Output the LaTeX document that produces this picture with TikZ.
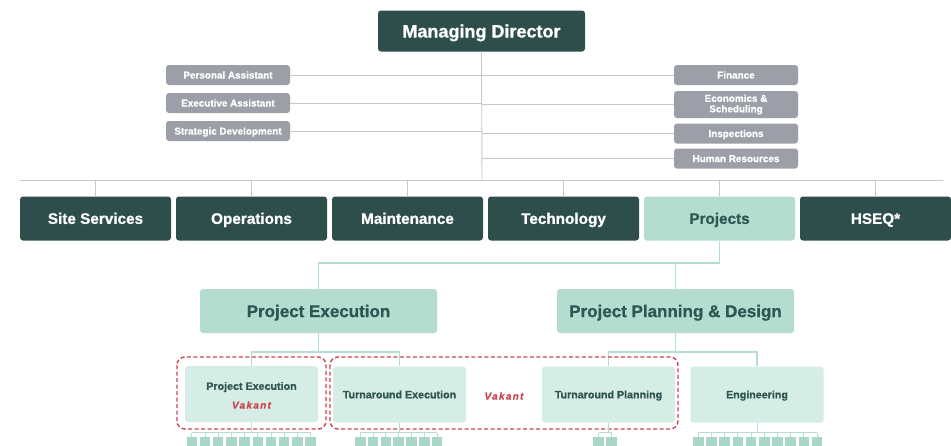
\documentclass[tikz,border=0pt]{standalone}
\usepackage{fontspec}
\setmainfont{Liberation Sans}[BoldFeatures={FakeBold=0.9}]
\newfontfamily\vakfont{Liberation Sans}[LetterSpace=13,BoldItalicFeatures={FakeBold=0.6}]
\definecolor{dk}{HTML}{2D4E4B}
\definecolor{gr}{HTML}{9C9FA8}
\definecolor{lt}{HTML}{B4DDD0}
\definecolor{sub}{HTML}{D5EDE4}
\definecolor{sq}{HTML}{A9D6C7}
\definecolor{tline}{HTML}{B6DDD1}
\definecolor{gline}{HTML}{C6C8CB}
\definecolor{txt}{HTML}{2F5652}
\definecolor{vred}{HTML}{CC4452}
\begin{document}
\begin{tikzpicture}[x=1pt,y=-1pt,
  md/.style={fill=dk,rounded corners=3pt,text=white,minimum width=207pt,minimum height=41pt,inner sep=0pt,text height=13pt,text depth=0pt,font=\bfseries\fontsize{18}{20}\selectfont},
  dept/.style={fill=dk,rounded corners=3pt,text=white,minimum width=151pt,minimum height=44pt,inner sep=0pt,text height=10.8pt,text depth=0pt,font=\bfseries\fontsize{15.3}{17}\selectfont},
  deptlt/.style={dept,fill=lt,text=txt},
  grbox/.style={fill=gr,rounded corners=3pt,text=white,minimum width=124pt,minimum height=20pt,inner sep=0pt,align=center,font=\bfseries\fontsize{9.9}{10.5}\selectfont},
  grone/.style={grbox,text height=7.1pt,text depth=0pt},
  lvtwo/.style={fill=lt,rounded corners=3pt,text=txt,minimum width=237pt,minimum height=44pt,inner sep=0pt,text height=12.2pt,text depth=0pt,font=\bfseries\fontsize{17}{19}\selectfont},
  lvthree/.style={fill=sub,rounded corners=3pt,text=txt,minimum width=133pt,minimum height=56pt,inner sep=0pt,align=center,font=\bfseries\fontsize{10.7}{12}\selectfont},
  lvone/.style={lvthree,text height=7.7pt,text depth=0pt},
  sqbox/.style={fill=sq,minimum width=10.5pt,minimum height=11pt,inner sep=0pt,anchor=north},
  gconn/.style={draw=gline,line width=0.9pt},
  tconn/.style={draw=tline,line width=1.1pt},
  vakbox/.style={draw=vred,line width=1.4pt,dash pattern=on 4pt off 2.5pt,rounded corners=8pt},
  vak/.style={text=vred,font=\vakfont\bfseries\itshape\fontsize{10}{12}\selectfont,inner sep=0pt,text height=7.2pt,text depth=0pt}
]
\useasboundingbox (0,0) rectangle (951,445);
\fill[white] (0,0) rectangle (951,445);

% top
\node[md] (md) at (481.5,31) {Managing Director};
\coordinate (hub) at (482,180);
\coordinate (hl) at (20,180);
\coordinate (hr) at (943,180);

\node[grone] (pa) at (228,75) {Personal Assistant};
\node[grone] (ea) at (228,103) {Executive Assistant};
\node[grone] (sd) at (228,131) {Strategic Development};
\node[grone] (fin) at (736,75) {Finance};
\node[grbox,minimum height=27pt] (eco) at (736,104.5) {Economics \&\\Scheduling};
\node[grone] (ins) at (736,133.5) {Inspections};
\node[grone] (hres) at (736,158.5) {Human Resources};

\draw[gconn] (md.south) -- (hub);
\draw[gconn] (hl) -- (hr);
\foreach \n in {pa,ea,sd}{\draw[gconn] (\n.east) -- (\n.east -| hub);}
\foreach \n in {fin,eco,ins,hres}{\draw[gconn] (\n.west) -- (\n.west -| hub);}

% departments
\node[dept] (site) at (95.5,218.5) {Site Services};
\node[dept] (ops) at (251.5,218.5) {Operations};
\node[dept] (mnt) at (407.5,218.5) {Maintenance};
\node[dept] (tech) at (563.5,218.5) {Technology};
\node[deptlt] (proj) at (719.5,218.5) {Projects};
\node[dept] (hseq) at (875.5,218.5) {HSEQ*};
\foreach \n in {site,ops,mnt,tech,proj,hseq}{\draw[gconn] (\n.north) -- (\n.north |- hub);}

% level 2
\node[lvtwo] (pe) at (318.5,311) {Project Execution};
\node[lvtwo] (ppd) at (675.5,311) {Project Planning \& Design};
\coordinate (pj) at (719.5,263);
\draw[tconn] (proj.south) -- (pj) -- (pj -| pe.north) -- (pe.north);
\draw[tconn] (pj -| ppd.north) -- (ppd.north);

% level 3
\node[lvthree] (pes) at (251.5,394) {};
\node[inner sep=0pt,text=txt,font=\bfseries\fontsize{10.7}{12}\selectfont,text height=7.7pt,text depth=0pt] (pest) at (251.5,386) {Project Execution};
\node[vak] (vak1) at (251.5,405) {Vakant};
\node[lvone] (te) at (399.5,394.5) {Turnaround Execution};
\node[lvone] (tp) at (608.5,394.5) {Turnaround Planning};
\node[lvone] (eng) at (757,394.5) {Engineering};
\node[vak] (vak2) at (504,396) {Vakant};

\coordinate (j1) at (318.5,352);
\coordinate (j2) at (675.5,352);
\draw[tconn] (pe.south) -- (j1);
\draw[tconn] (pes.north) -- (pes.north |- j1) -- (te.north |- j1) -- (te.north);
\draw[tconn] (ppd.south) -- (j2);
\draw[tconn] (tp.north) -- (tp.north |- j2) -- (eng.north |- j2) -- (eng.north);

\draw[vakbox] (177,357) rectangle (326,429);
\draw[vakbox] (330,357) rectangle (678,429);

% small squares
\foreach \grp/\prt/\x/\cnt/\pitch in {a/pes/191.75/10/13.2, b/te/360.25/7/12.8, c/tp/598.5/2/13.0, d/eng/698.25/10/13.2}{
  \foreach \i in {1,...,\cnt}{
    \node[sqbox] (sq-\grp-\i) at ({\x+(\i-1)*\pitch},437) {};
  }
  \coordinate (bar-\grp) at (\prt.south |- 0,432.5);
  \draw[tconn,line width=0.8pt] (\prt.south) -- (bar-\grp);
  \draw[tconn,line width=0.8pt] (sq-\grp-1.north |- bar-\grp) -- (sq-\grp-\cnt.north |- bar-\grp);
  \foreach \i in {1,...,\cnt}{
    \draw[tconn,line width=0.8pt] (sq-\grp-\i.north |- bar-\grp) -- (sq-\grp-\i.north);
  }
}
\end{tikzpicture}
\end{document}
